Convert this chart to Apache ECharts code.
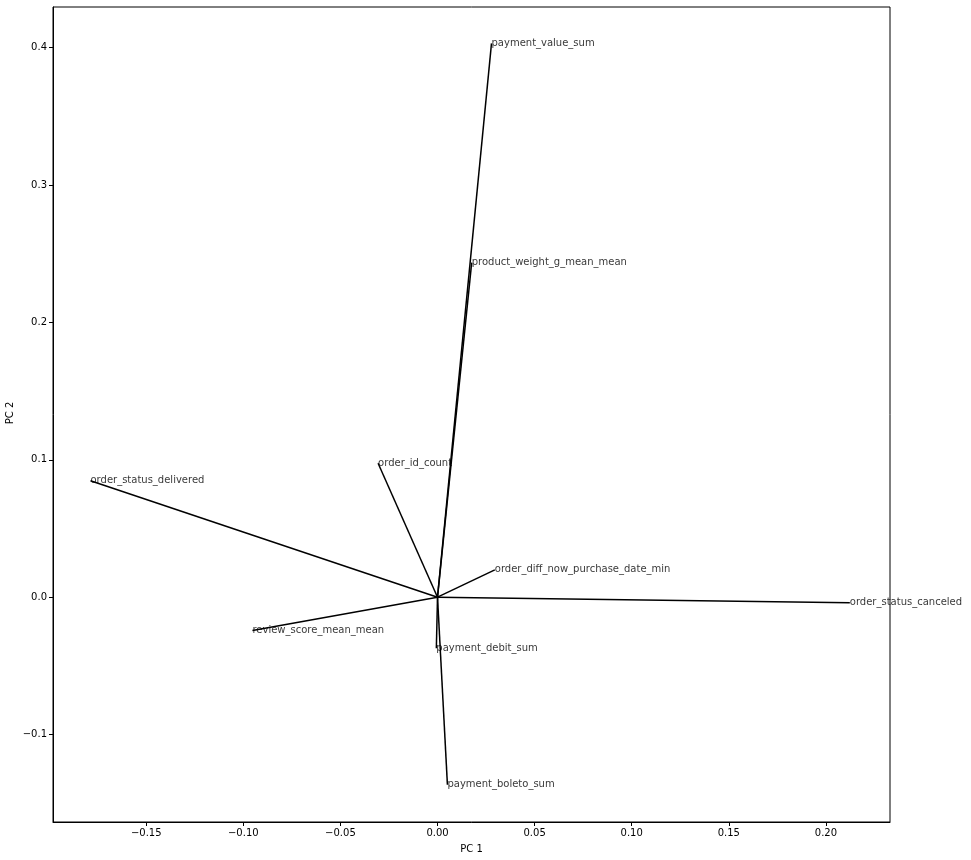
<!DOCTYPE html>
<html>
<head>
<meta charset="utf-8">
<script src="https://cdn.jsdelivr.net/npm/echarts@6/dist/echarts.min.js"></script>
<style>html,body{margin:0;padding:0;background:#fff}#c{width:971px;height:860px}</style>
</head>
<body>
<div id="c"></div>
<script>
const features = ['payment_value_sum','product_weight_g_mean_mean','order_id_count','order_status_delivered','review_score_mean_mean','order_diff_now_purchase_date_min','payment_debit_sum','payment_boleto_sum','order_status_canceled'];
const pc1 = [0.0278, 0.0176, -0.0306, -0.1787, -0.0953, 0.0295, -0.0006, 0.0051, 0.2123];
const pc2 = [0.403, 0.2435, 0.0975, 0.0848, -0.0243, 0.0199, -0.0371, -0.1365, -0.0041];
const xTicks = [-0.15, -0.10, -0.05, 0.00, 0.05, 0.10, 0.15, 0.20];
const yTicks = [-0.1, 0.0, 0.1, 0.2, 0.3, 0.4];

const fmt = (v, d) => (v < -1e-9 ? '\u2212' : '') + Math.abs(v).toFixed(d);
const font = 'DejaVu Sans';

const series = features.map((f, i) => ({
  type: 'line',
  data: [[0, 0], [pc1[i], pc2[i]]],
  symbol: 'none',
  lineStyle: {color: '#000', width: 1.5},
  silent: true
}));
series.push({
  type: 'scatter',
  data: features.map((f, i) => ({value: [pc1[i], pc2[i]], name: f})),
  symbolSize: 0,
  silent: true,
  label: {
    show: true,
    position: [0, 0],
    align: 'left',
    verticalAlign: 'bottom',
    offset: [0, 5],
    formatter: p => p.name,
    color: '#000',
    textBorderWidth: 0,
    fontSize: 10,
    fontFamily: font
  }
});

const chart = echarts.init(document.getElementById('c'), null, {renderer: 'canvas'});
chart.setOption({
  animation: false,
  backgroundColor: '#fff',
  grid: {left: 53, right: 81, top: 7, bottom: 38, show: true, borderColor: '#000', borderWidth: 1, containLabel: false, outerBoundsMode: 'none'},
  graphic: [{
    type: 'text', x: 10, y: 413, rotation: Math.PI / 2,
    style: {text: 'PC 2', fill: '#000', fontSize: 10, fontFamily: font, align: 'center', verticalAlign: 'middle'}
  }],
  xAxis: {
    type: 'value', min: -0.198, max: 0.233,
    name: 'PC 1', nameLocation: 'middle', nameGap: 22,
    nameTextStyle: {color: '#000', fontSize: 10, fontFamily: font},
    axisLine: {show: true, onZero: false, lineStyle: {color: '#000', width: 1}},
    axisTick: {show: true, length: 4, customValues: xTicks, lineStyle: {color: '#000'}},
    axisLabel: {customValues: xTicks, formatter: v => fmt(v, 2), color: '#000', fontSize: 10, fontFamily: font, margin: 6},
    splitLine: {show: false}
  },
  yAxis: {
    type: 'value', min: -0.1636, max: 0.4295,
    axisLine: {show: true, onZero: false, lineStyle: {color: '#000', width: 1}},
    axisTick: {show: true, length: 4, customValues: yTicks, lineStyle: {color: '#000'}},
    axisLabel: {customValues: yTicks, formatter: v => fmt(v, 1), color: '#000', fontSize: 10, fontFamily: font, margin: 6},
    splitLine: {show: false}
  },
  series: series
});
</script>
</body>
</html>
